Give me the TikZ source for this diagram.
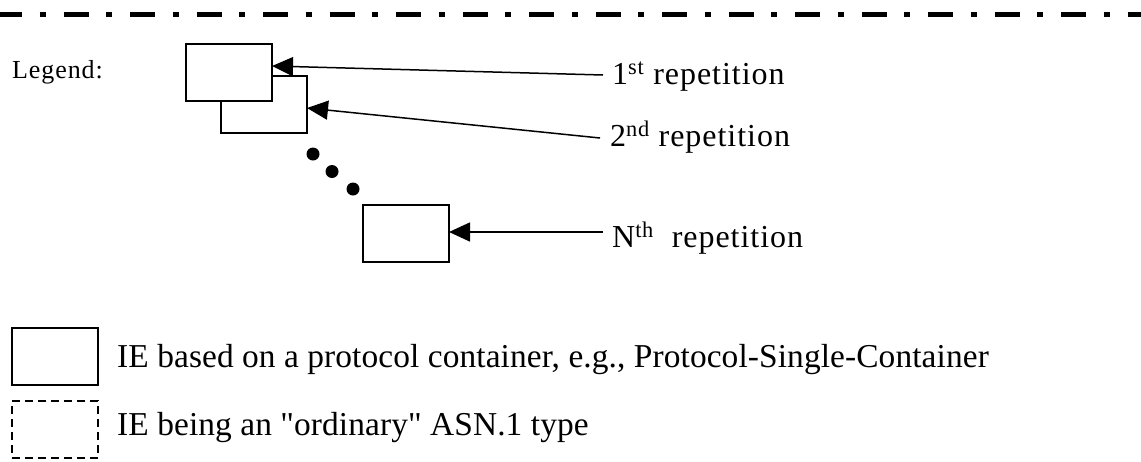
\documentclass[tikz,border=0pt]{standalone}
\usepackage{fontspec}
\setmainfont{Liberation Serif}
\newfontfamily\trk[LetterSpace=3]{Liberation Serif}
\newfontfamily\trkleg[LetterSpace=3.5]{Liberation Serif}
\newfontfamily\trkdesc[LetterSpace=0.3]{Liberation Serif}
\usetikzlibrary{arrows.meta,calc}
\tikzset{
  box/.style={draw=black, line width=2pt, fill=white, minimum width=86pt, minimum height=57pt, inner sep=0pt, outer sep=0pt},
  dbox/.style={box, dash pattern=on 8pt off 5pt},
  arr/.style={line width=1.5pt, -{Triangle[length=21pt,width=19pt]}},
  dot/.style={circle, fill=black, minimum size=13pt, inner sep=0pt},
  rep/.style={anchor=base west, inner sep=0pt, font=\trk\fontsize{32}{38}\selectfont},
  leg/.style={anchor=base west, inner sep=0pt, font=\trkleg\fontsize{26}{31}\selectfont},
  desc/.style={anchor=base west, inner sep=0pt, font=\trkdesc\fontsize{33.4}{40}\selectfont},
}
\begin{document}
\begin{tikzpicture}[x=1pt,y=-1pt]
\useasboundingbox (0,0) rectangle (1141,461);
% top dash-dot rule
\draw[line width=5pt, dash pattern=on 25pt off 17.5pt on 6pt off 18pt, dash phase=3pt] (0,14) -- (1141,14);
% legend label
\node[leg] (legend) at (12,78) {Legend:};
% stacked boxes
\node[box] (b2) at (264,104.5) {};
\node[box] (b1) at (229,72.5) {};
\node[dot] (d1) at (313,154) {};
\node[dot] (d2) at (332,171.5) {};
\node[dot] (d3) at (353,189) {};
\node[box] (b3) at (406,233) {};
% labels
\node[rep] (t1) at (612,84) {1\textsuperscript{st} repetition};
\node[rep] (t2) at (610,146) {2\textsuperscript{nd} repetition};
\node[rep] (t3) at (612,247) {N\textsuperscript{th}\ \ repetition};
\coordinate (e1) at (603,75);
\coordinate (e2) at (600,138);
\coordinate (e3) at (603,232);
\draw[arr] (e1) -- ([yshift=-22pt]b1.north east);
\draw[arr] (e2) -- ([yshift=-32pt]b2.north east);
\draw[arr] (e3) -- (b3.east |- e3);
% bottom legend
\node[box] (s1) at (55,356) {};
\node[dbox] (s2) at (55,429.5) {};
\node[desc] (l1) at (117,367) {IE based on a protocol container, e.g., Protocol-Single-Container};
\node[desc] (l2) at (117,435) {IE being an \symbol{34}ordinary\symbol{34} ASN.1 type};
\end{tikzpicture}
\end{document}
